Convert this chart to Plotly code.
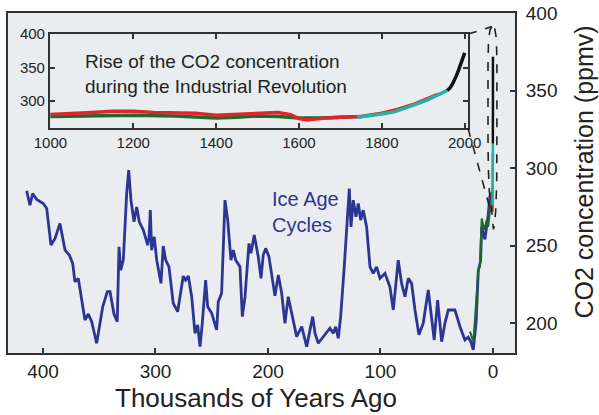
import plotly.graph_objects as go

# ---------------- data ----------------
# Ice-age cycles (thousands of years ago, ppmv)
ice_kyr = [414.5, 411.6, 409.2, 405.6, 399.7, 396.7, 392.9, 389.3, 384.9, 380.4,
           376.6, 373.6, 371.6, 368.6, 362.7, 359.7, 356.7, 352.3, 346.9, 342.8,
           340.4, 336.9, 334.0, 332.4, 330.9, 328.6, 325.6, 323.8, 321.8, 319.1,
           316.7, 314.4, 310.8, 306.9, 305.8, 304.6, 303.4, 301.1, 298.9, 295.1,
           293.1, 290.9, 288.0, 284.2, 280.3, 277.3, 275.3, 273.2, 270.8, 267.8,
           264.9, 262.5, 260.4, 258.4, 255.4, 253.6, 250.0, 245.6, 244.2, 241.2,
           238.2, 235.8, 232.9, 230.8, 228.7, 224.9, 222.8, 220.4, 216.9, 215.1,
           212.2, 208.6, 206.2, 204.2, 202.0, 199.1, 195.8, 193.8, 190.8, 187.8,
           184.9, 182.0, 178.9, 174.5, 170.0, 165.6, 160.3, 158.2, 155.3, 150.8,
           144.9, 142.0, 139.8, 137.5, 135.4, 132.4, 129.5, 127.7, 126.2, 124.2,
           121.8, 119.7, 117.6, 115.3, 112.3, 109.3, 106.4, 103.4, 100.4, 96.0,
           91.6, 88.6, 84.2, 81.2, 78.2, 75.3, 72.3, 69.3, 65.8, 62.0,
           57.5, 54.5, 52.2, 49.2, 45.6, 42.7, 39.7, 33.8, 29.3, 24.9,
           22.0, 19.6, 17.5, 15.0, 13.0, 11.0, 10.0, 7.1, 4.2, 2.7, 1.2]
ice_ppm = [285.4, 276.1, 283.7, 279.8, 277.2, 274.0, 250.3, 254.6, 264.3, 247.1,
           243.9, 238.5, 226.6, 228.8, 201.9, 205.8, 200.8, 186.9, 210.5, 220.2,
           220.2, 205.8, 200.8, 249.2, 234.2, 240.6, 283.7, 298.7, 279.4, 265.4,
           275.0, 265.4, 260.0, 250.3, 254.6, 272.9, 247.1, 255.7, 240.6, 225.6,
           249.7, 240.6, 236.3, 212.7, 207.3, 222.4, 230.3, 227.7, 230.3, 217.0,
           193.4, 198.7, 184.7, 199.8, 227.7, 210.5, 206.3, 195.5, 213.7, 219.2,
           279.4, 266.5, 240.6, 247.1, 240.6, 236.3, 204.1, 217.0, 251.4, 245.0,
           256.8, 242.8, 228.8, 243.9, 248.2, 242.8, 226.0, 217.5, 231.0, 219.2,
           199.8, 217.0, 206.3, 191.2, 197.6, 184.7, 204.1, 193.4, 186.9, 191.2,
           196.6, 193.4, 197.6, 190.1, 204.1, 234.2, 266.5, 286.9, 262.1, 279.4,
           268.6, 277.2, 266.5, 272.9, 262.1, 236.3, 232.1, 236.3, 228.8, 232.1,
           223.4, 208.4, 240.6, 225.6, 217.0, 228.8, 225.6, 208.4, 192.3, 199.8,
           221.3, 204.1, 189.0, 214.8, 187.9, 199.8, 208.4, 208.4, 197.6, 189.0,
           190.8, 187.9, 182.6, 200.0, 234.0, 240.0, 262.0, 254.0, 270.0, 282.0, 284.0]

# Last deglaciation (green)
deglac_kyr = [20.4, 17.5, 16.0, 13.1, 11.6, 10.0, 7.7, 5.6, 4.2, 1.8, 0.6]
deglac_ppm = [194.4, 188.0, 202.0, 234.2, 236.3, 267.5, 260.0, 266.5, 262.1, 278.3, 280.4]

# Last millennium (year AD, ppmv)
green_year = [1000, 1100, 1200, 1300, 1400, 1450, 1500, 1550, 1600, 1650, 1700, 1750]
green_ppm = [277, 278, 279, 278, 275, 276, 278, 277, 275, 275, 276, 277]
red_year = [1000, 1050, 1100, 1150, 1200, 1250, 1300, 1350, 1400, 1450, 1500, 1550,
            1580, 1600, 1620, 1650, 1700, 1750, 1800, 1840, 1880, 1910, 1935]
red_ppm = [280, 281, 283, 285, 285, 283, 282, 282, 279, 280, 282, 283,
           280, 274, 272, 274, 276, 277, 282, 288, 296, 303, 310]
cyan_year = [1740, 1770, 1800, 1830, 1860, 1890, 1910, 1930, 1950, 1958]
cyan_ppm = [276, 278, 281, 284, 290, 297, 302, 308, 313, 316]
black_year = [1958, 1965, 1970, 1975, 1980, 1985, 1990, 1995, 2000]
black_ppm = [316, 320, 325, 331, 338, 346, 354, 362, 372]

main_xticks = [400, 300, 200, 100, 0]
main_yticks = [200, 250, 300, 350, 400]
inset_xticks = [1000, 1200, 1400, 1600, 1800, 2000]
inset_yticks = [300, 350, 400]

PRESENT = 2000.0
def yrs_to_kyr(years):
    return [(PRESENT - y) / 1000.0 for y in years]

# ---------------- styles ----------------
FONT = "Liberation Sans, Arial, sans-serif"
BLUE = "#2d3592"
DGREEN = "#1d6b2c"
RED = "#e3232b"
CYAN = "#22b3a6"
BLACK = "#111111"
FRAME = "#333333"
MAIN_BG = "#e9edf0"
INSET_BG = "#fcf4c8"

main_xr = [431.1, -19.6]
main_yr = [180.6, 400.3]
inset_dx = [0.0828, 0.9073]
inset_dy = [0.6618, 0.938]

fig = go.Figure()

# main panel
fig.add_trace(go.Scatter(x=ice_kyr, y=ice_ppm, mode="lines",
                         line=dict(color=BLUE, width=2.8), xaxis="x", yaxis="y"))
fig.add_trace(go.Scatter(x=deglac_kyr, y=deglac_ppm, mode="lines",
                         line=dict(color=DGREEN, width=2.0), xaxis="x", yaxis="y"))
fig.add_trace(go.Scatter(x=yrs_to_kyr(green_year), y=green_ppm, mode="lines",
                         line=dict(color=DGREEN, width=2.5), xaxis="x", yaxis="y"))
fig.add_trace(go.Scatter(x=yrs_to_kyr(red_year), y=red_ppm, mode="lines",
                         line=dict(color=RED, width=2.5), xaxis="x", yaxis="y"))
fig.add_trace(go.Scatter(x=yrs_to_kyr(cyan_year), y=cyan_ppm, mode="lines",
                         line=dict(color=CYAN, width=2.5), xaxis="x", yaxis="y"))
fig.add_trace(go.Scatter(x=yrs_to_kyr(black_year), y=black_ppm, mode="lines",
                         line=dict(color=BLACK, width=2.5), xaxis="x", yaxis="y"))

# inset
fig.add_trace(go.Scatter(x=green_year, y=green_ppm, mode="lines",
                         line=dict(color=DGREEN, width=3.5), xaxis="x2", yaxis="y2"))
fig.add_trace(go.Scatter(x=red_year, y=red_ppm, mode="lines",
                         line=dict(color=RED, width=3.5), xaxis="x2", yaxis="y2"))
fig.add_trace(go.Scatter(x=cyan_year, y=cyan_ppm, mode="lines",
                         line=dict(color=CYAN, width=3.5), xaxis="x2", yaxis="y2"))
fig.add_trace(go.Scatter(x=black_year, y=black_ppm, mode="lines",
                         line=dict(color=BLACK, width=3.5), xaxis="x2", yaxis="y2"))

# ---------------- shapes (inset background + zoom connectors) ----------------
def paper_to_main(px, py):
    return (main_xr[0] + px * (main_xr[1] - main_xr[0]),
            main_yr[0] + py * (main_yr[1] - main_yr[0]))

dash = dict(color="#222222", width=1.6, dash="dash")
tr = paper_to_main(inset_dx[1], inset_dy[1])
br = paper_to_main(inset_dx[1], inset_dy[0])
loop_top = (0.9, 391.5)
loop_pts = [loop_top, (2.6, 389.5), (3.9, 383), (4.4, 370), (4.4, 320), (4.1, 300),
            (3.2, 285), (1.8, 276), (1.0, 272), (0.2, 265), (-0.4, 260.5),
            (-1.2, 262.5), (-2.4, 272), (-3.3, 290), (-3.5, 320), (-3.5, 370),
            (-3.0, 384), (-1.6, 390)]
path = "M " + " L ".join(f"{x},{y}" for x, y in loop_pts) + " Z"

shapes = [
    dict(type="rect", xref="x2 domain", yref="y2 domain", x0=0, x1=1, y0=0, y1=1,
         fillcolor=INSET_BG, line=dict(width=0), layer="below"),
    dict(type="line", xref="x", yref="y", x0=tr[0], y0=tr[1], x1=loop_top[0], y1=loop_top[1],
         line=dash, layer="above"),
    dict(type="line", xref="x", yref="y", x0=br[0], y0=br[1], x1=1.8, y1=271.5,
         line=dash, layer="above"),
    dict(type="path", xref="x", yref="y", path=path, line=dash, layer="above"),
]

axis_common = dict(showgrid=False, zeroline=False, showline=True, linecolor=FRAME,
                   linewidth=2, ticks="inside", tickcolor=FRAME, tickwidth=1.5,
                   ticklen=5, automargin=False)

fig.update_layout(
    width=599, height=415, autosize=False,
    margin=dict(l=8, r=84, t=13, b=62),
    paper_bgcolor="white", plot_bgcolor=MAIN_BG,
    showlegend=False,
    font=dict(family=FONT, color="#222222"),
    shapes=shapes,
    xaxis=dict(domain=[0, 1], range=main_xr, tickvals=main_xticks, mirror=True,
               tickfont=dict(size=19), ticklabelstandoff=0, **axis_common),
    yaxis=dict(domain=[0, 1], range=main_yr, tickvals=main_yticks, side="right",
               mirror=True, tickfont=dict(size=19), ticklabelstandoff=5, **axis_common),
    xaxis2=dict(domain=inset_dx, range=[999, 2008], tickvals=inset_xticks,
                anchor="y2", mirror="ticks", tickfont=dict(size=15), **axis_common),
    yaxis2=dict(domain=inset_dy, range=[260, 400], tickvals=inset_yticks,
                anchor="x2", mirror="ticks", tickfont=dict(size=15), **axis_common),
    annotations=[
        dict(text="Thousands of Years Ago", xref="paper", yref="paper",
             x=0.489, y=-0.131, xanchor="center", yanchor="middle", showarrow=False,
             font=dict(size=26, color="#222222")),
        dict(text="CO2 concentration (ppmv)", xref="paper", yref="paper",
             x=1.137, y=0.532, xanchor="center", yanchor="middle", showarrow=False,
             textangle=-90, font=dict(size=25, color="#222222")),
        dict(text="Rise of the CO2 concentration<br>during the Industrial Revolution",
             xref="paper", yref="paper", x=0.148, y=0.8206, xanchor="left",
             yanchor="middle", align="left", showarrow=False,
             font=dict(size=19, color="#222222")),
        dict(text="Ice Age<br>Cycles", xref="paper", yref="paper", x=0.5168, y=0.416,
             xanchor="left", yanchor="middle", align="left", showarrow=False,
             font=dict(size=20, color=BLUE)),
    ],
)

fig.write_html("out.html")
